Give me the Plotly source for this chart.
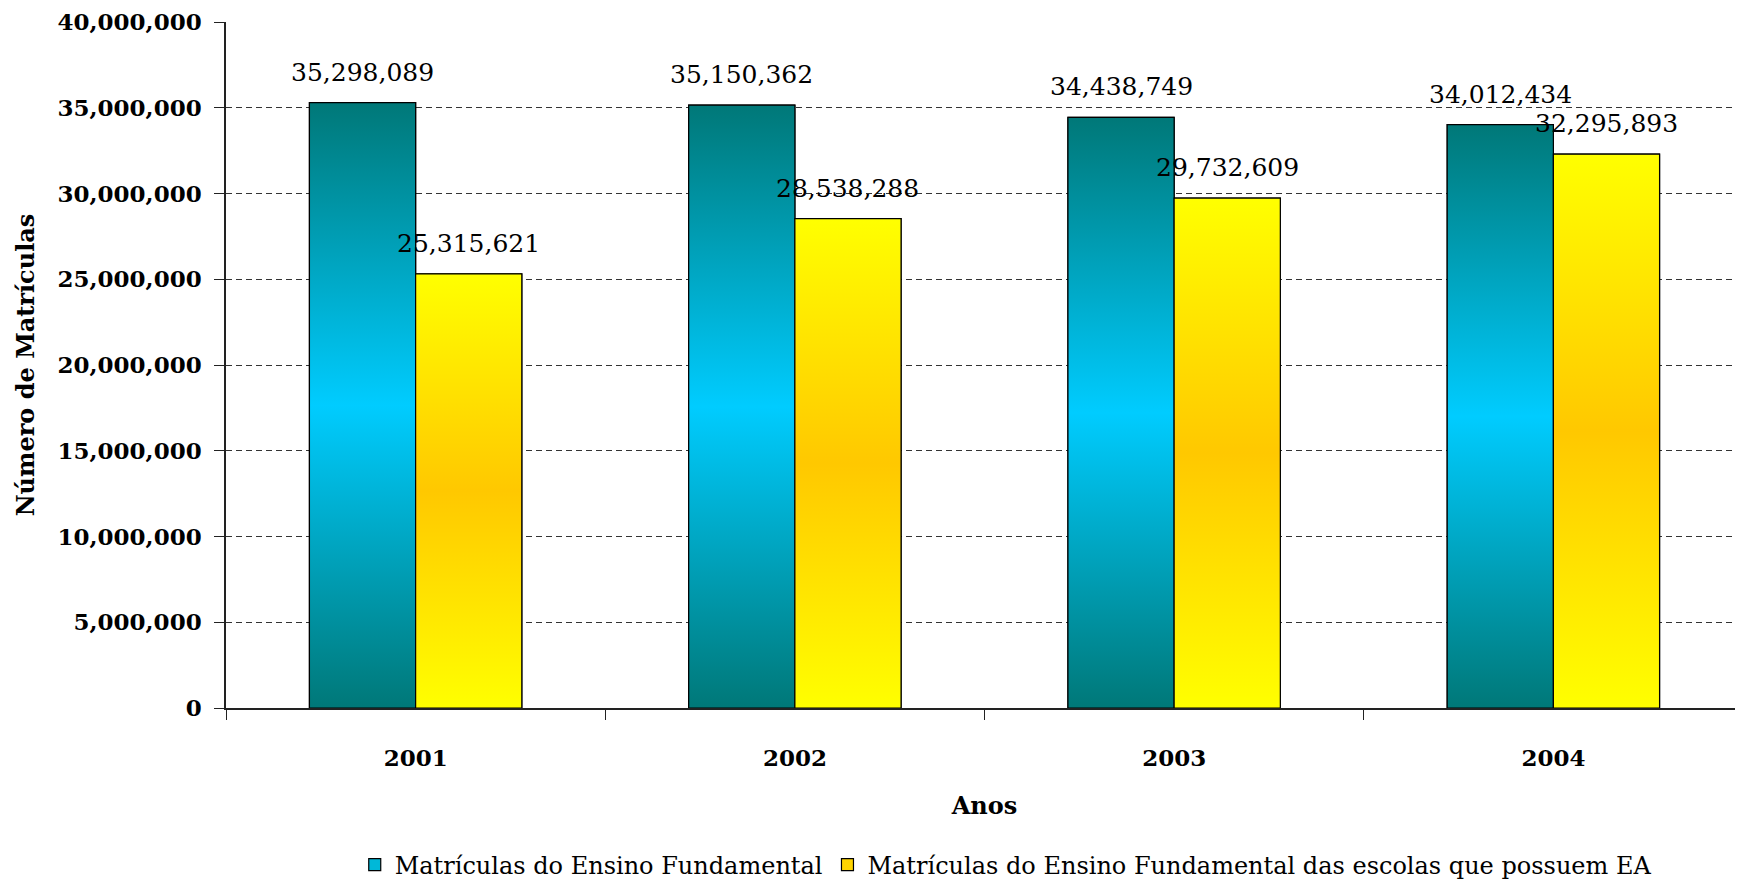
import plotly.graph_objects as go

years = ["2001", "2002", "2003", "2004"]
matriculas_ef = [35298089, 35150362, 34438749, 34012434]
matriculas_ea = [25315621, 28538288, 29732609, 32295893]
series_names = ["Matrículas do Ensino Fundamental",
                "Matrículas do Ensino Fundamental das escolas que possuem EA"]

FONT = "DejaVu Serif"
BARGAP = 0.44
BAR_W = (1 - BARGAP) / 2

teal_scale = [[0, "#007878"], [0.5, "#00CCFF"], [1, "#007878"]]
yellow_scale = [[0, "#FFFF00"], [0.5, "#FFC800"], [1, "#FFFF00"]]

fig = go.Figure()

# real bars (solid mid colour, used for legend)
fig.add_trace(go.Bar(x=years, y=matriculas_ef, name=series_names[0],
                     marker=dict(color="#00B8D8", line=dict(color="black", width=1.2)),
                     hoverinfo="skip"))
fig.add_trace(go.Bar(x=years, y=matriculas_ea, name=series_names[1],
                     marker=dict(color="#FFD400", line=dict(color="black", width=1.2)),
                     hoverinfo="skip"))

# gradient overlays computed from the same data
for s, (vals, cs) in enumerate([(matriculas_ef, teal_scale), (matriculas_ea, yellow_scale)]):
    for i, v in enumerate(vals):
        x0 = i - BAR_W if s == 0 else i
        x1 = x0 + BAR_W
        fig.add_trace(go.Scatter(
            x=[x0, x1, x1, x0, x0], y=[0, 0, v, v, 0],
            xaxis="x2", yaxis="y", mode="lines", fill="toself",
            fillgradient=dict(type="vertical", colorscale=cs),
            line=dict(color="black", width=1.2),
            showlegend=False, hoverinfo="skip"))
        fig.add_annotation(x=(x0 + x1) / 2, y=v, xref="x2", yref="y",
                           text=f"{v:,}", showarrow=False, yanchor="bottom",
                           yshift=14, font=dict(family=FONT, size=25, color="black"))

fig.update_layout(
    width=1735, height=876,
    margin=dict(l=218, r=0, t=14, b=176, autoexpand=False),
    paper_bgcolor="white", plot_bgcolor="white",
    barmode="group", bargap=BARGAP, bargroupgap=0,
    font=dict(family=FONT, color="black"),
    xaxis=dict(type="category", range=[-0.5, 3.5], showline=True, linecolor="#222",
               linewidth=1.5, ticks="outside", tickson="boundaries", ticklen=10,
               tickcolor="#222", showgrid=False, automargin=False,
               tickfont=dict(family=FONT, size=23, weight="bold"),
               ticklabelstandoff=29,
               title=dict(text="<b>Anos</b>", font=dict(family=FONT, size=24), standoff=27)),
    xaxis2=dict(overlaying="x", anchor="y", range=[-0.5, 3.5], visible=False),
    yaxis=dict(range=[0, 40000000], dtick=5000000, tickformat=",", showline=True,
               linecolor="#222", linewidth=1.5, ticks="outside", ticklen=10,
               tickcolor="#222", showgrid=True, gridcolor="#333", griddash="6px,4px",
               gridwidth=1, zeroline=False, automargin=False,
               tickfont=dict(family=FONT, size=23, weight="bold"),
               ticklabelstandoff=8,
               title=dict(text="<b>Número de Matrículas</b>", font=dict(family=FONT, size=24),
                          standoff=16)),
    legend=dict(orientation="h", x=0.514, xanchor="center", y=-0.229, yanchor="middle",
                font=dict(family=FONT, size=24), itemwidth=30, tracegroupgap=0),
    showlegend=True,
)

fig.write_html("out.html")
